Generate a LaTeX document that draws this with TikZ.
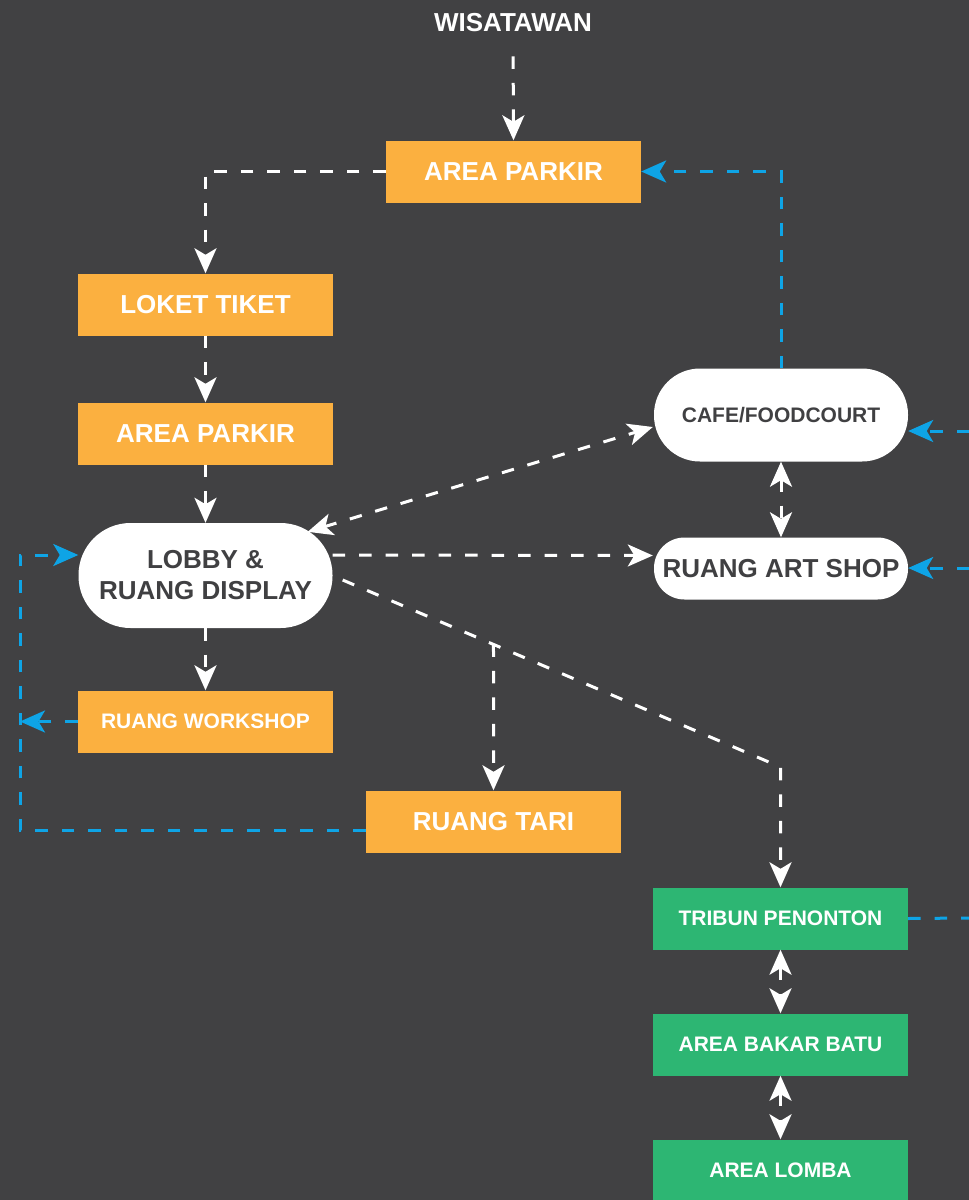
\documentclass[tikz,border=0pt]{standalone}
\usepackage{fontspec}
\setmainfont{Liberation Sans}
\usetikzlibrary{arrows.meta,calc}

\definecolor{bg}{RGB}{65,65,67}
\definecolor{orangefill}{RGB}{251,176,64}
\definecolor{greenfill}{RGB}{45,182,115}
\definecolor{linkblue}{RGB}{14,164,230}
\definecolor{darktext}{RGB}{64,64,66}

\tikzset{
  bigtext/.style={font=\bfseries\fontsize{26}{31}\selectfont},
  smalltext/.style={font=\bfseries\fontsize{21}{25}\selectfont},
  boxbase/.style={minimum width=255pt, minimum height=62pt, inner sep=0pt,
                  text=white, align=center},
  obox/.style={boxbase, fill=orangefill},
  gbox/.style={boxbase, fill=greenfill},
  pill/.style={fill=white, text=darktext, inner sep=0pt, align=center,
               minimum width=254pt},
  >={Stealth[length=25pt,width=22pt,inset=6.5pt]},
  flow/.style={draw=white, line width=3pt,
               dash pattern=on 12.5pt off 14pt},
  back/.style={draw=linkblue, line width=3pt,
               dash pattern=on 12.5pt off 14pt},
}

\begin{document}
\begin{tikzpicture}[x=1pt,y=-1pt]
  % canvas
  \fill[bg] (0,0) rectangle (969,1200);
  \useasboundingbox (0,0) rectangle (969,1200);

  % entry and main path
  \node[bigtext, text=white, inner sep=0pt] (wis) at (513,23) {WISATAWAN};
  \node[obox, bigtext] (park1) at (513.5,171.5) {AREA PARKIR};
  \node[obox, bigtext] (loket) at (205.5,304.5) {LOKET TIKET};
  \node[obox, bigtext] (park2) at (205.5,433.5) {AREA PARKIR};
  \node[pill, bigtext, minimum height=105pt, rounded corners=52pt] (lobby)
        at (205.5,575.5) {LOBBY \&\\RUANG DISPLAY};
  \node[obox, smalltext] (work) at (205.5,721.5) {RUANG WORKSHOP};
  \node[obox, bigtext] (tari) at (493.5,821.5) {RUANG TARI};

  % right column
  \node[pill, smalltext, minimum height=93pt, rounded corners=46pt] (cafe)
        at (781,415) {CAFE/FOODCOURT};
  \node[pill, bigtext, minimum height=62pt, rounded corners=30.5pt] (art)
        at (781,568.5) {RUANG ART SHOP};
  \node[gbox, smalltext] (trib)  at (780.5,918.5)  {TRIBUN PENONTON};
  \node[gbox, smalltext] (bakar) at (780.5,1044.5) {AREA BAKAR BATU};
  \node[gbox, smalltext] (lomba) at (780.5,1170.5) {AREA LOMBA};

  % helper points
  \coordinate (lobbyout) at ($(lobby.east)+(10,4.5)$);
  \coordinate (bend) at (trib.north |- 0,767);
  \coordinate (split) at (intersection of lobbyout--bend and tari.north--tari.south);
  \coordinate (loopcorner) at (20,830);
  \coordinate (edgecafe) at (969,431);
  \coordinate (edgeart) at (969,568);
  \coordinate (edgetrib) at (969,918);

  % white visitor flow
  \draw[flow, ->, shorten <=24pt] (wis.south) -- (park1.north);
  \draw[flow, ->] (park1.west) -| (loket.north);
  \draw[flow, ->] (loket.south) -- (park2.north);
  \draw[flow, ->] (park2.south) -- (lobby.north);
  \draw[flow, ->] (lobby.south) -- (work.north);
  \draw[flow, <->] ($(lobby.north east)+(-25,9)$) -- ($(cafe.west)+(-1,12)$);
  \draw[flow, ->] ($(lobby.east)+(0,-20.5)$) -- ($(art.west)+(-1,-13)$);
  \draw[flow, <->] (cafe.south) -- (art.north);
  \draw[flow, ->] (lobbyout) -- (bend) -- (trib.north);
  \draw[flow, ->] (split) -- (tari.north);
  \draw[flow, <->] (trib.south) -- (bakar.north);
  \draw[flow, <->] (bakar.south) -- (lomba.north);

  % blue return flow
  \draw[back, ->] ($(tari.west)+(0,8.5)$) -- (loopcorner) |- ($(lobby.west)+(0,-20.5)$);
  \draw[back, ->] (work.west) -- (work.west -| loopcorner);
  \draw[back, ->] (cafe.north) |- (park1.east);
  \draw[back, ->] (edgecafe) -- (cafe.east |- edgecafe);
  \draw[back, ->] (edgeart) -- (edgeart -| art.east);
  \draw[back] (trib.east) -- (edgetrib);
\end{tikzpicture}
\end{document}
